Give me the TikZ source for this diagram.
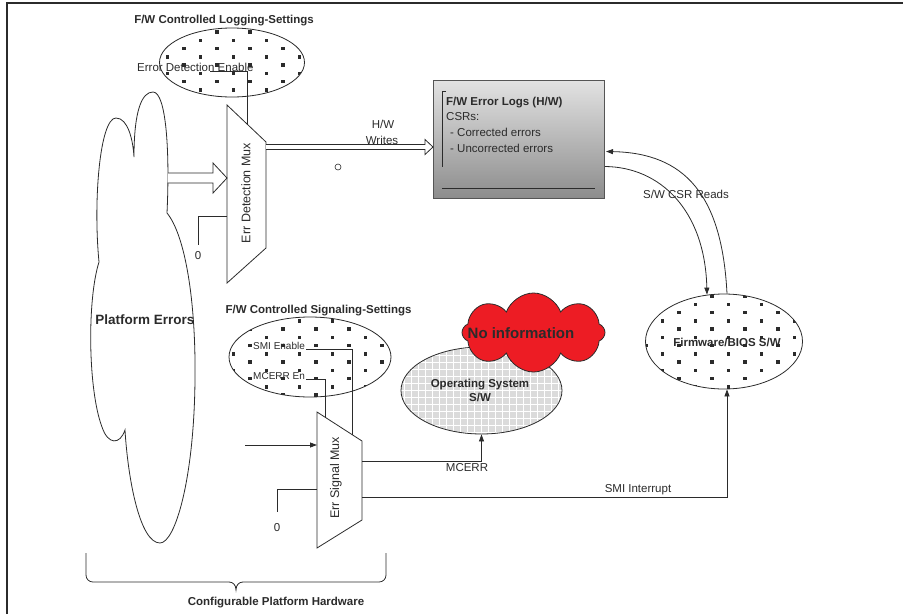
\documentclass[tikz,border=0pt]{standalone}
\usepackage{fontspec}
\setmainfont{Liberation Sans}
\usetikzlibrary{shapes.geometric,shapes.symbols,arrows.meta,calc}

\definecolor{ink}{HTML}{2B2B2B}
\definecolor{alarmred}{HTML}{ED1C24}
\definecolor{boxtop}{RGB}{226,226,226}
\definecolor{boxbot}{RGB}{140,140,140}

\tikzset{
  wire/.style={draw=ink,line width=0.8pt},
  sig/.style={wire,-{Triangle[length=7pt,width=5pt]}},
  lbl/.style={text=ink,inner sep=1pt,font=\fontsize{11.5}{13}\selectfont},
  small lbl/.style={lbl,font=\fontsize{10}{12}\selectfont},
  title lbl/.style={lbl,font=\bfseries\fontsize{11.5}{13}\selectfont},
  mux lbl/.style={lbl,rotate=90,font=\fontsize{12.5}{14}\selectfont},
  settings/.style={ellipse,draw=ink,line width=0.8pt,fill=white,inner sep=0pt},
}

% staggered square dots, rows #1..#2, columns #3..#4
\newcommand{\squaredots}[4]{%
  \foreach \row in {#1,...,#2}{
    \foreach \col in {#3,...,#4}{
      \fill[ink] ({19+33*\col+16.5*mod(\row,2)-1.75},{32+8.25*\row-1.75}) rectangle ++(3.5,3.5);
    }
  }
}

% hollow arrow: from, to, half shaft, half head, head length
\newcommand{\fatarrow}[5]{%
  \draw[wire,fill=white] ($(#1)+(0,-#3)$) -- ($(#2)+(-#5,-#3)$) -- ($(#2)+(-#5,-#4)$)
    -- (#2) -- ($(#2)+(-#5,#4)$) -- ($(#2)+(-#5,#3)$) -- ($(#1)+(0,#3)$);
}

\begin{document}
\begin{tikzpicture}[x=1pt,y=-1pt]
\useasboundingbox (0,0) rectangle (903,614);
\draw[ink,line width=2pt] (7,614) -- (7,3) -- (903,3);

%% Platform errors
\draw[wire,fill=white] (99,262)
  .. controls (93,200) and (100,118) .. (116,118)
  .. controls (128,118) and (133,140) .. (134,157)
  .. controls (134,110) and (142,92) .. (153,92)
  .. controls (166,92) and (170,150) .. (167,213)
  .. controls (185,235) and (196,300) .. (195,380)
  .. controls (194,480) and (175,543) .. (160,543)
  .. controls (140,543) and (128,480) .. (125,430)
  .. controls (120,445) and (108,445) .. (102,427)
  .. controls (88,390) and (87,300) .. (99,262) -- cycle;
\node[lbl,font=\bfseries\fontsize{13.5}{15}\selectfont] (perr) at (145,320) {Platform Errors};
\coordinate (pe-out) at (168,178);

%% Logging settings
\node[title lbl] (logtitle) at (224,21) {F/W Controlled Logging-Settings};
\node[settings,minimum width=145pt,minimum height=69pt] (logset) at (232,62.5) {};
\begin{scope}
  \clip (logset.center) ellipse [x radius=72.5pt,y radius=34.5pt];
  \squaredots{0}{8}{4}{9}
\end{scope}
\node[lbl,anchor=west] (ede) at (136,67) {Error Detection Enable};

%% Err detection mux
\draw[wire] (227,105) -- (266,142) -- (266,248) -- (227,283) -- cycle;
\node[mux lbl] (dmux) at (246,193) {Err Detection Mux};
\coordinate (dm-en) at (247,124);
\coordinate (dm-in) at (227,178);
\coordinate (dm-zero) at (227,216);
\coordinate (dm-out) at (266,147);
\coordinate (ede-tap) at (210,71);
\coordinate (dz) at (198,245);
\node[lbl] (zero1) at (198,256) {0};
\draw[wire] (ede-tap) -| (dm-en);
\draw[wire] (dm-zero) -| (dz);
\fatarrow{pe-out}{dm-in}{5}{15}{14}

%% Error log registers
\node[draw=ink!80,line width=1pt,top color=boxtop,bottom color=boxbot,
      minimum width=171pt,minimum height=118pt,anchor=north west,inner sep=0pt] (logs) at (433,80) {};
\draw[wire] (446,91) -- (442,91) -- (442,167);
\draw[wire] (442,188) -- (595,188);
\node[title lbl,anchor=west] (logs-head) at (445,103) {F/W Error Logs (H/W)};
\node[lbl,anchor=west] (logs-csr) at (445,117) {CSRs:};
\node[lbl,anchor=west] (logs-ce) at (449,132) {- Corrected errors};
\node[lbl,anchor=west] (logs-ue) at (449,148) {- Uncorrected errors};

\coordinate (logs-in) at (logs.west |- dm-out);
\fatarrow{dm-out}{logs-in}{2.5}{7.5}{8}
\node[lbl] (hw) at (383,124) {H/W};
\node[lbl] (writes) at (382,140) {Writes};
\node[circle,draw=ink,line width=0.6pt,minimum size=6pt,inner sep=0pt] (mark) at (338,167) {};

%% Firmware
\node[settings,minimum width=157pt,minimum height=95pt] (fw) at (724,341.5) {};
\begin{scope}
  \clip (fw.center) ellipse [x radius=78.5pt,y radius=47.5pt];
  \squaredots{31}{44}{18}{24}
\end{scope}
\node[title lbl] (fwlbl) at (727,342) {Firmware/BIOS S/W};

\draw[sig] ($(fw.north)+(3,0)$) .. controls (722,195) and (685,153) .. ($(logs.east)+(1,12)$);
\draw[sig] ($(logs.east)+(0,27)$) .. controls (660,167) and (705,210) .. ($(fw.north)+(-17,1)$);
\node[lbl] (csrreads) at (686,194) {S/W CSR Reads};

%% Signaling settings
\node[title lbl] (sigtitle) at (318.5,311) {F/W Controlled Signaling-Settings};
\node[settings,minimum width=162pt,minimum height=80pt] (sigset) at (310,357) {};
\begin{scope}
  \clip (sigset.center) ellipse [x radius=81pt,y radius=40pt];
  \squaredots{34}{45}{6}{11}
\end{scope}
\node[small lbl,anchor=west] (smien) at (252,346) {SMI Enable};
\node[small lbl,anchor=west] (mcen) at (252,376) {MCERR En};

%% Err signal mux
\draw[wire] (317,412) -- (362,441) -- (362,520) -- (317,548) -- cycle;
\node[mux lbl] (smux) at (336,478) {Err Signal Mux};
\coordinate (sm-smi) at (352,434.6);
\coordinate (sm-mc) at (325,417);
\coordinate (sm-in) at (317,445);
\coordinate (sm-zero) at (317,489);
\coordinate (sm-os) at (362,461);
\coordinate (sm-fw) at (362,497);
\coordinate (sig-src) at (245,445);
\coordinate (sz) at (277,512);
\draw[wire] (smien.base east) -| (sm-smi);
\draw[wire] (mcen.base east) -| (sm-mc);
\draw[sig] (sig-src) -- (sm-in);
\draw[wire] (sm-zero) -| (sz);
\node[lbl] (zero2) at (277,528) {0};

%% Operating system
\node[ellipse,draw=ink,line width=0.8pt,inner sep=0pt,fill=gray!28,
      minimum width=161pt,minimum height=87pt,
      path picture={\draw[white,line width=1.3pt]
        (path picture bounding box.south west) grid[step=7pt] (path picture bounding box.north east);}] (os) at (481.5,390.5) {};
\node[title lbl,align=center,font=\bfseries\fontsize{11.5}{14}\selectfont] (oslbl) at (480,390) {Operating System\\S/W};

\node[cloud,cloud puffs=8,cloud puff arc=140,aspect=1.8,draw=ink,line width=0.8pt,fill=alarmred,
      minimum width=143pt,minimum height=79pt,inner sep=0pt] (noinfo) at (533.5,332.5) {};
\node[lbl,font=\bfseries\fontsize{15}{17}\selectfont] (noinfo-lbl) at (521,333) {No information};

\draw[sig] (sm-os) -| (os.south);
\node[lbl] (mcerr) at (467,468) {MCERR};
\draw[sig] (sm-fw) -| ($(fw.south)+(3,0)$);
\node[lbl] (smi) at (638,490) {SMI Interrupt};

%% Hardware brace
\draw[wire] (86,553) -- (86,575) .. controls (86,579) and (89,582) .. (93,582) -- (229,582)
  .. controls (233,582) and (236,585) .. (236,590)
  .. controls (236,585) and (239,582) .. (243,582) -- (379,582)
  .. controls (383,582) and (386,579) .. (386,575) -- (386,553);
\node[title lbl] (hwlbl) at (276,603) {Configurable Platform Hardware};
\end{tikzpicture}
\end{document}
